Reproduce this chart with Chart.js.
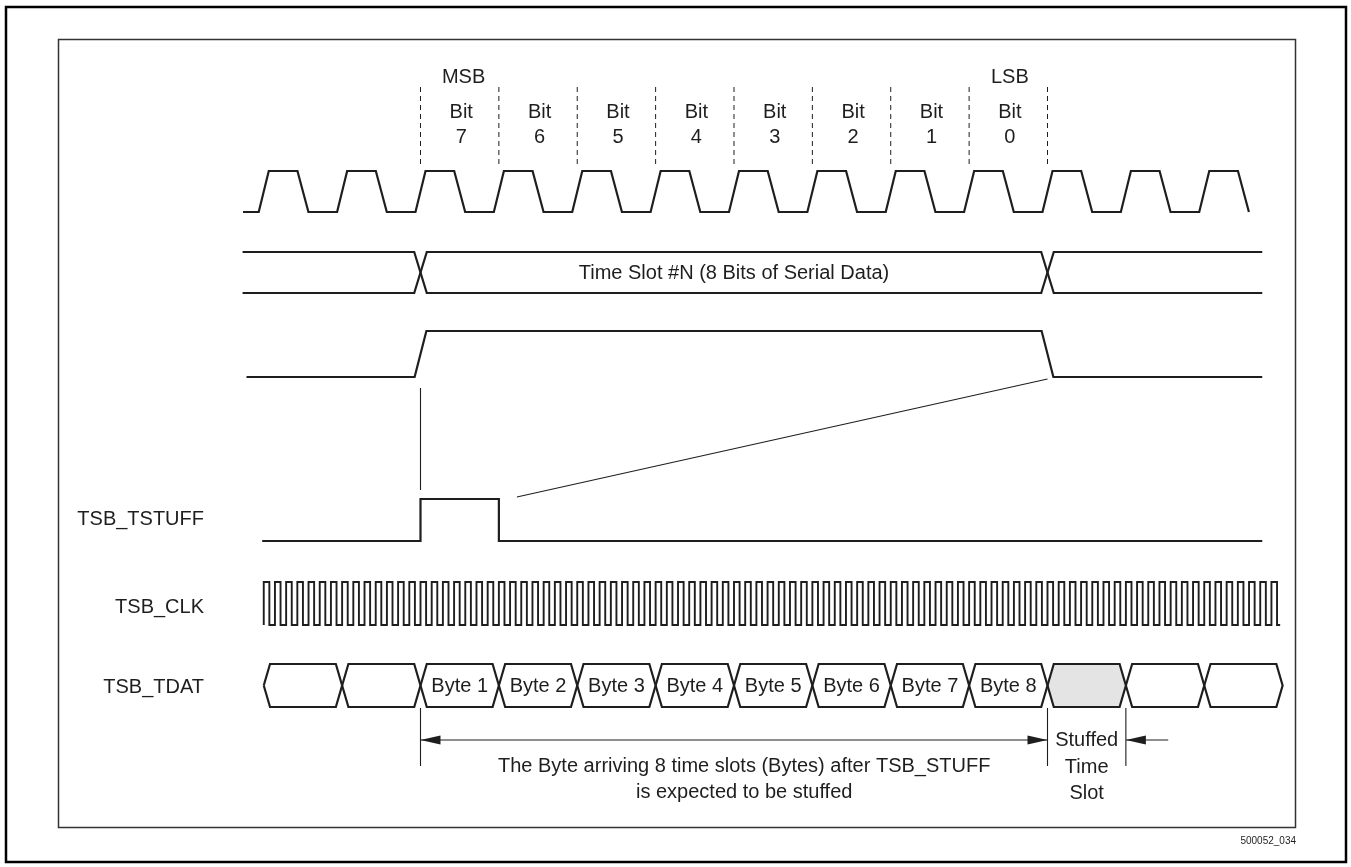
<!DOCTYPE html>
<html>
<head>
<meta charset="utf-8">
<title>TSB_TSTUFF timing</title>
<script src="https://cdn.jsdelivr.net/npm/chart.js@4.4.1/dist/chart.umd.min.js"></script>
<style>
    html, body { margin: 0; padding: 0; background: #fff; }
    #wrap { width: 1351px; height: 867px; }
</style>
</head>
<body>
<div id="wrap"><canvas id="timing" width="1351" height="867"></canvas></div>
<script>
// time is in bit periods, 0 = start of Bit 7 (MSB)
const bitNames = ['7', '6', '5', '4', '3', '2', '1', '0'];
const bitEdges = [0, 1, 2, 3, 4, 5, 6, 7, 8];
const serClkRises = [-2, -1, 0, 1, 2, 3, 4, 5, 6, 7, 8, 9, 10];
const serClkSpan = [-2.265, 10.57];
const slotEdges = [0, 8];
const slotSpan = [-2.27, 10.74];
const frameEdges = [0, 8];
const frameSpan = [-2.22, 10.74];
const stuffPulse = [0, 1];
const stuffSpan = [-2.02, 10.74];
const tsbClkStart = -2;
const tsbClkCycles = 91;
const tsbClkPerBit = 7;
const tdatEdges = [-2, -1, 0, 1, 2, 3, 4, 5, 6, 7, 8, 9, 10, 11];
const tdatLabels = ['', '', 'Byte 1', 'Byte 2', 'Byte 3', 'Byte 4', 'Byte 5', 'Byte 6', 'Byte 7', 'Byte 8', '', '', ''];
const stuffedCell = 10;

// layout (pixel rows, the y scale runs 0..867 top to bottom)
const lane = {
    serClk: { hi: 171, lo: 212 },
    slot: { hi: 252, lo: 293 },
    frame: { hi: 331, lo: 377 },
    stuff: { hi: 499, lo: 541 },
    tsbClk: { hi: 582, lo: 625 },
    tdat: { hi: 664, lo: 707 }
};
const slope = { ser: 0.064, serFall: [0.43, 0.57], bus: 0.08, frame: 0.075, cell: 0.08 };
const ink = '#1e1e1e';
const font = '"Liberation Sans", Arial, Helvetica, sans-serif';

function serClkPoints() {
    const l = lane.serClk;
    const pts = [{ x: serClkSpan[0], y: l.lo }];
    serClkRises.forEach(r => {
        pts.push({ x: r - slope.ser, y: l.lo });
        pts.push({ x: r + slope.ser, y: l.hi });
        pts.push({ x: r + slope.serFall[0], y: l.hi });
        pts.push({ x: r + slope.serFall[1], y: l.lo });
    });
    return pts;
}

function busLines(edges, span, l, s) {
    const a = [{ x: span[0], y: l.hi }];
    const b = [{ x: span[0], y: l.lo }];
    let top = true;
    edges.forEach(e => {
        a.push({ x: e - s, y: top ? l.hi : l.lo }, { x: e + s, y: top ? l.lo : l.hi });
        b.push({ x: e - s, y: top ? l.lo : l.hi }, { x: e + s, y: top ? l.hi : l.lo });
        top = !top;
    });
    a.push({ x: span[1], y: top ? l.hi : l.lo });
    b.push({ x: span[1], y: top ? l.lo : l.hi });
    return [a, b];
}

function framePoints() {
    const l = lane.frame, s = slope.frame;
    return [
        { x: frameSpan[0], y: l.lo },
        { x: frameEdges[0] - s, y: l.lo },
        { x: frameEdges[0] + s, y: l.hi },
        { x: frameEdges[1] - s, y: l.hi },
        { x: frameEdges[1] + s, y: l.lo },
        { x: frameSpan[1], y: l.lo }
    ];
}

function stuffPoints() {
    const l = lane.stuff;
    return [
        { x: stuffSpan[0], y: l.lo },
        { x: stuffPulse[0], y: l.lo },
        { x: stuffPulse[0], y: l.hi },
        { x: stuffPulse[1], y: l.hi },
        { x: stuffPulse[1], y: l.lo },
        { x: stuffSpan[1], y: l.lo }
    ];
}

function tsbClkPoints() {
    const l = lane.tsbClk;
    const half = 0.5 / tsbClkPerBit;
    const pts = [];
    for (let k = 0; k < tsbClkCycles; k++) {
        const r = tsbClkStart + k / tsbClkPerBit;
        pts.push({ x: r, y: l.lo }, { x: r, y: l.hi }, { x: r + half, y: l.hi }, { x: r + half, y: l.lo });
    }
    pts.push({ x: pts[pts.length - 1].x + 0.04, y: l.lo });
    return pts;
}

function cellShape(a, b) {
    const l = lane.tdat, s = slope.cell;
    const mid = (l.hi + l.lo) / 2;
    return [
        { x: a, y: mid }, { x: a + s, y: l.hi }, { x: b - s, y: l.hi },
        { x: b, y: mid }, { x: b - s, y: l.lo }, { x: a + s, y: l.lo }, { x: a, y: mid }
    ];
}

function wave(data, extra) {
    return Object.assign({
        data: data,
        borderColor: ink,
        borderWidth: 2.2,
        pointRadius: 0,
        tension: 0,
        fill: false,
        spanGaps: false
    }, extra || {});
}

// thin guide lines, broken with null points
function guides() {
    const pts = [];
    bitEdges.forEach(e => pts.push({ x: e, y: 87 }, { x: e, y: 167 }, { x: e, y: null }));
    return pts;
}
function links() {
    return [
        { x: 0, y: 388 }, { x: 0, y: 490 }, { x: 0, y: null },
        { x: 1.23, y: 497 }, { x: 8, y: 379 }, { x: 8, y: null },
        { x: 0, y: 708 }, { x: 0, y: 766 }, { x: 0, y: null },
        { x: 8, y: 708 }, { x: 8, y: 766 }, { x: 8, y: null },
        { x: 9, y: 708 }, { x: 9, y: 766 }, { x: 9, y: null },
        { x: 0, y: 740 }, { x: 8, y: 740 }, { x: 8, y: null },
        { x: 9, y: 740 }, { x: 9.54, y: 740 }
    ];
}

const slotLines = busLines(slotEdges, slotSpan, lane.slot, slope.bus);

const datasets = [
    wave(serClkPoints()),
    wave(slotLines[0]),
    wave(slotLines[1]),
    wave(framePoints()),
    wave(stuffPoints()),
    wave(tsbClkPoints(), { borderWidth: 1.9 }),
    wave(guides(), { borderWidth: 1, borderDash: [5, 4] }),
    wave(links(), { borderWidth: 1.1 })
];
for (let i = 0; i < tdatEdges.length - 1; i++) {
    const stuffed = i === stuffedCell;
    datasets.push(wave(cellShape(tdatEdges[i], tdatEdges[i + 1]), {
        fill: stuffed ? 'shape' : false,
        backgroundColor: stuffed ? '#e4e4e4' : 'transparent'
    }));
}

const diagramText = {
    id: 'diagramText',
    beforeDraw(chart) {
        const ctx = chart.ctx;
        ctx.save();
        ctx.fillStyle = '#fff';
        ctx.fillRect(0, 0, chart.width, chart.height);
        ctx.restore();
    },
    afterDraw(chart) {
        const ctx = chart.ctx;
        const x = chart.scales.x, y = chart.scales.y;
        const px = t => x.getPixelForValue(t);
        const py = v => y.getPixelForValue(v);
        ctx.save();

        // frames
        ctx.strokeStyle = '#000';
        ctx.lineWidth = 2.5;
        ctx.strokeRect(6, 7, 1340, 855);
        ctx.strokeStyle = '#333';
        ctx.lineWidth = 1.5;
        ctx.strokeRect(58.5, 39.5, 1237, 788);

        ctx.fillStyle = ink;
        ctx.textBaseline = 'middle';
        ctx.font = '20px ' + font;
        ctx.textAlign = 'center';

        ctx.fillText('MSB', px(0.55), py(77));
        ctx.fillText('LSB', px(7.52), py(77));
        bitNames.forEach((b, i) => {
            ctx.fillText('Bit', px(i + 0.52), py(112));
            ctx.fillText(b, px(i + 0.52), py(137));
        });

        ctx.fillText('Time Slot #N (8 Bits of Serial Data)', px(4), py(273));

        tdatLabels.forEach((lab, i) => {
            if (lab) ctx.fillText(lab, px((tdatEdges[i] + tdatEdges[i + 1]) / 2), py(686));
        });

        ctx.fillText('The Byte arriving 8 time slots (Bytes) after TSB_STUFF', px(4.13), py(766));
        ctx.fillText('is expected to be stuffed', px(4.13), py(792));
        ctx.fillText('Stuffed', px(8.5), py(740));
        ctx.fillText('Time', px(8.5), py(767));
        ctx.fillText('Slot', px(8.5), py(793));

        ctx.textAlign = 'right';
        ctx.fillText('TSB_TSTUFF', 204, py(519));
        ctx.fillText('TSB_CLK', 204, py(607));
        ctx.fillText('TSB_TDAT', 204, py(687));

        ctx.font = '10px ' + font;
        ctx.fillText('500052_034', 1296, 841);

        // arrow heads
        const head = (tipT, dir) => {
            const tx = px(tipT), ty = py(740);
            ctx.beginPath();
            ctx.moveTo(tx, ty);
            ctx.lineTo(tx - dir * 20, ty - 4.5);
            ctx.lineTo(tx - dir * 20, ty + 4.5);
            ctx.closePath();
            ctx.fill();
        };
        head(0, -1);
        head(8, 1);
        head(9, -1);
        ctx.restore();
    }
};

const ctx = document.getElementById('timing').getContext('2d');
new Chart(ctx, {
    type: 'line',
    data: { datasets: datasets },
    options: {
        responsive: false,
        animation: false,
        devicePixelRatio: 1,
        layout: { padding: 0 },
        plugins: {
            legend: { display: false },
            tooltip: { enabled: false }
        },
        scales: {
            x: { type: 'linear', min: -5.3652, max: 11.8724, display: false },
            y: { type: 'linear', min: 0, max: 867, reverse: true, display: false }
        }
    },
    plugins: [diagramText]
});
</script>
</body>
</html>
